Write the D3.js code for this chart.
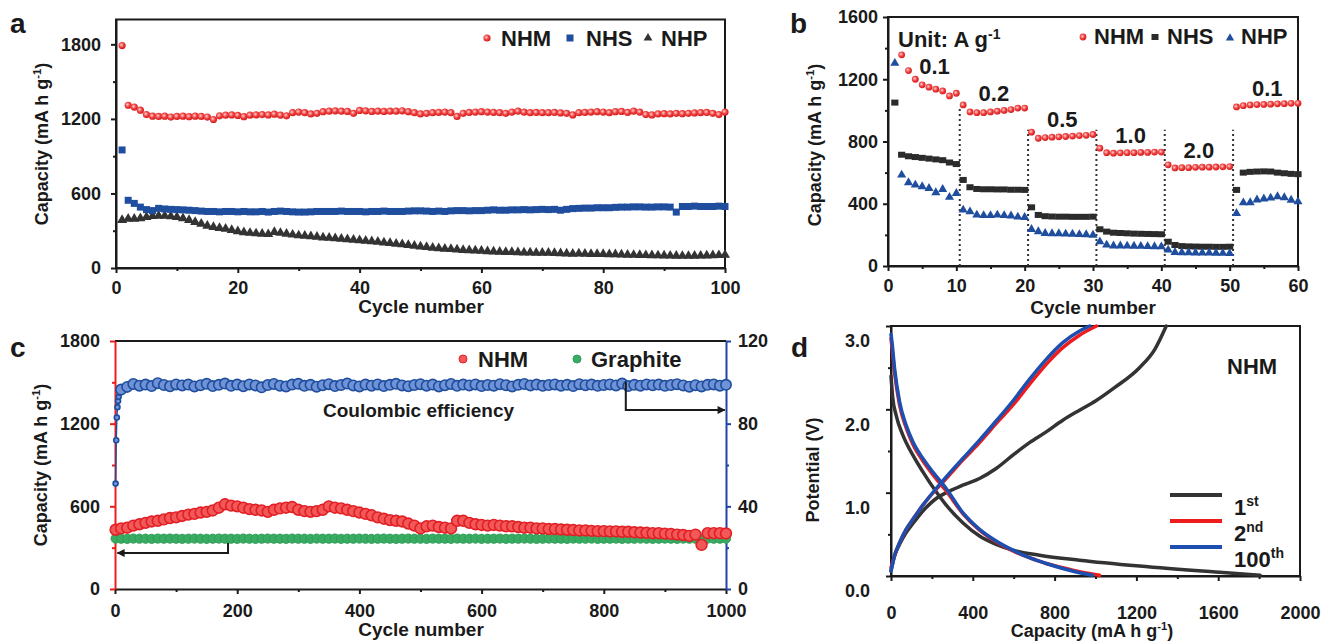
<!DOCTYPE html>
<html>
<head>
<meta charset="utf-8">
<script src="https://cdn.jsdelivr.net/npm/d3@7"></script>
<style>
  html, body { margin: 0; padding: 0; background: #fff; }
  svg { display: block; }
</style>
</head>
<body>
<svg id="fig" width="1323" height="642"></svg>
<script>
// ---------- data ----------
const seriesNames = ['NHM', 'NHS', 'NHP'];

// panel a: cycles 1..100
const cycA = d3.range(1, 101);
const nhmA = [1790,1310,1295,1270,1235,1222,1220,1222,1215,1220,
  1222,1218,1222,1220,1215,1195,1225,1230,1232,1228,
  1218,1230,1232,1235,1232,1238,1230,1225,1250,1255,
  1250,1240,1245,1258,1262,1265,1262,1260,1245,1268,
  1265,1260,1262,1260,1262,1262,1265,1258,1250,1240,
  1245,1250,1252,1255,1250,1220,1245,1252,1255,1258,
  1255,1252,1250,1245,1255,1262,1255,1250,1252,1250,
  1250,1252,1248,1245,1232,1250,1252,1255,1258,1255,
  1250,1258,1260,1252,1262,1255,1235,1232,1240,1242,
  1240,1245,1242,1245,1248,1250,1252,1245,1235,1255];
const nhsA = [950,545,520,490,470,462,480,475,472,470,
  468,465,462,458,455,455,452,455,455,452,
  455,452,452,455,450,455,458,455,452,450,
  450,452,455,455,455,455,458,455,455,455,
  452,455,455,458,455,455,455,458,460,460,
  458,455,458,455,460,462,462,460,462,462,
  465,468,465,465,468,468,470,468,470,472,
  470,472,465,472,478,480,482,482,485,485,
  485,488,490,490,492,492,490,490,492,492,
  490,450,495,495,498,495,495,495,498,495];
const nhpA = [385,395,395,400,410,418,420,420,415,410,
  400,385,370,355,340,330,322,315,305,295,
  288,282,278,275,272,290,282,275,268,262,
  258,255,250,245,242,238,235,230,226,222,
  218,214,210,205,200,195,190,185,178,172,
  168,162,158,155,152,148,145,142,140,138,
  135,132,130,128,128,126,125,124,122,122,
  122,120,118,116,114,116,114,112,112,112,
  110,110,108,106,105,104,103,102,101,100,
  99,98,97,97,98,99,100,102,103,105];

// panel b: rate test, cycles 1..60
const cycB = d3.range(1, 61);
const nhmB = [null,1357,1256,1200,1164,1149,1136,1125,1093,1110,
  1035,990,985,985,990,995,1000,1005,1015,1015,
  860,821,825,828,830,832,835,838,840,845,
  757,728,725,727,728,728,730,730,732,732,
  650,630,632,632,634,635,635,636,637,639,
  1022,1030,1035,1037,1038,1040,1042,1043,1045,1045];
const nhsB = [1050,715,705,700,695,690,685,680,665,655,
  553,506,495,493,493,492,492,490,490,489,
  377,328,320,318,317,317,316,316,316,317,
  236,221,214,212,210,208,207,206,205,204,
  156,135,128,126,125,124,124,123,123,124,
  489,600,605,607,608,607,600,596,592,590];
const nhpB = [1303,585,536,521,510,499,472,493,442,467,
  360,349,328,325,325,328,325,322,315,313,
  236,221,210,208,208,206,205,203,202,199,
  156,135,130,130,129,128,127,126,125,124,
  103,88,86,86,85,85,84,83,82,81,
  339,407,408,425,432,437,446,440,424,413];
const rateLabels = ['0.1', '0.2', '0.5', '1.0', '2.0', '0.1'];
const rateSwitch = [10.5, 20.5, 30.5, 40.5, 50.5];
const switchTop = [1015, 875, 875, 875, 875];

// panel c: long cycling, NHM / Graphite capacity and coulombic efficiency
const cycC = [1].concat(d3.range(10, 1001, 10));
const nhmC = [430,440,445,460,470,480,490,495,505,515,520,
  530,540,545,555,560,570,590,615,605,600,
  590,580,575,570,560,575,585,590,595,575,
  565,560,565,575,600,590,585,575,565,555,
  545,535,520,510,500,495,490,475,460,440,
  455,460,450,445,440,495,495,480,470,465,
  460,465,460,455,455,450,445,445,440,440,
  435,435,432,430,428,425,425,422,420,420,
  418,418,415,415,412,410,408,405,405,402,
  400,395,392,385,395,320,405,405,405,403];
const graphiteC = [366,365,364,366,365,365,364,366,365,366,365,
  364,365,366,365,364,365,366,365,365,364,
  366,365,364,365,366,365,365,364,366,365,
  365,364,366,365,365,366,364,365,365,366,
  365,364,365,366,365,364,365,366,365,365,
  364,366,365,365,364,366,365,365,366,364,
  365,365,366,364,365,365,366,365,364,365,
  366,365,365,364,366,365,365,366,364,365,
  365,366,364,365,365,366,365,364,365,366,
  365,364,366,365,365,364,366,365,365,366];
const cycCE = [1,2,3,4,5,6,8].concat(d3.range(10, 1001, 10));
const ceC = [51,72,83,88,91,93,95,
  96.5,97.8,99.2,98.4,98.9,98.2,99.6,98.7,98.1,99.0,
  98.5,98.9,98.0,98.6,99.3,98.2,98.8,99.4,98.3,98.9,
  98.1,99.0,98.5,97.6,98.7,99.2,98.4,98.0,98.9,99.3,
  98.3,98.8,97.9,98.6,99.1,98.2,98.7,99.4,98.5,98.0,
  98.9,98.4,99.0,98.2,98.8,99.3,98.5,98.1,98.7,99.1,
  98.4,98.9,98.0,98.6,99.2,98.3,98.9,98.5,99.0,98.2,
  98.7,98.4,99.1,98.6,98.0,98.8,99.2,98.5,98.9,98.3,
  98.7,99.0,98.4,98.8,98.2,99.1,98.6,98.9,98.3,98.7,
  99.0,98.5,99.4,98.2,98.8,98.4,99.0,98.6,98.9,98.3,
  98.7,99.1,98.5,97.9,98.6,98.0,98.8,99.0,98.4,98.8];
const legendC = ['NHM', 'Graphite'];

// panel d: voltage profiles [capacity, potential]
const cycleNames = ['1', '2', '100'];
const cycleSup = ['st', 'nd', 'th'];
const dis1 = [[0,2.4],[8,2.15],[25,1.93],[58,1.69],[107,1.45],[156,1.25],[221,1.01],[270,0.85],
  [351,0.64],[433,0.48],[514,0.38],[596,0.31],[726,0.25],[922,0.19],[1215,0.12],[1606,0.045],[1805,0.01]];
const chg1 = [[0,0.06],[17,0.24],[42,0.38],[74,0.52],[107,0.63],[156,0.78],[221,0.93],[270,1.0],
  [351,1.09],[433,1.17],[514,1.29],[596,1.45],[677,1.6],[759,1.73],[840,1.87],[922,1.99],
  [1000,2.1],[1093,2.26],[1215,2.5],[1290,2.72],[1346,3.0]];
const dis2 = [[0,2.85],[6,2.72],[17,2.45],[42,2.05],[74,1.78],[107,1.58],[156,1.38],[204,1.22],
  [270,1.02],[351,0.75],[433,0.55],[514,0.41],[596,0.3],[677,0.22],[759,0.15],[840,0.1],[922,0.05],[1020,0.01]];
const chg2 = [[0,0.1],[17,0.24],[42,0.4],[74,0.56],[107,0.68],[156,0.85],[221,1.04],[270,1.17],
  [351,1.39],[433,1.6],[514,1.83],[596,2.05],[677,2.3],[759,2.54],[840,2.74],[922,2.89],[1005,3.0]];
const dis100 = [[0,2.9],[6,2.78],[17,2.5],[42,2.09],[74,1.81],[107,1.61],[156,1.41],[204,1.25],
  [270,1.05],[351,0.76],[433,0.56],[514,0.42],[596,0.31],[677,0.22],[759,0.15],[840,0.09],[922,0.04],[985,0.01]];
const chg100 = [[0,0.06],[17,0.24],[42,0.4],[74,0.56],[107,0.68],[156,0.85],[221,1.05],[270,1.19],
  [351,1.41],[433,1.63],[514,1.86],[596,2.1],[677,2.36],[759,2.6],[840,2.8],[922,2.94],[972,3.0]];

// ---------- drawing ----------
const FONT = "'Liberation Sans', Arial, sans-serif";
const INK = '#1a1a1a';
const RED = '#e3262b', BLUE = '#1f4e9e', GRAY = '#333333', GREEN = '#2f9e58';

const svg = d3.select('#fig');
const defs = svg.append('defs');
const ball = defs.append('radialGradient').attr('id', 'redBall')
  .attr('cx', '40%').attr('cy', '40%').attr('r', '60%');
ball.append('stop').attr('offset', '0%').attr('stop-color', '#ffd0d0');
ball.append('stop').attr('offset', '55%').attr('stop-color', '#ef4040');
ball.append('stop').attr('offset', '100%').attr('stop-color', '#d41c1c');
defs.append('marker').attr('id', 'arrow').attr('viewBox', '0 0 10 10')
  .attr('refX', 9).attr('refY', 5).attr('markerWidth', 9).attr('markerHeight', 8)
  .attr('markerUnits', 'userSpaceOnUse').attr('orient', 'auto')
  .append('path').attr('d', 'M0,0L10,5L0,10Z').attr('fill', INK);

function txt(x, y, s, size, anchor){
  return svg.append('text').attr('x', x).attr('y', y)
    .attr('font-family', FONT).attr('font-weight', 'bold').attr('font-size', size)
    .attr('text-anchor', anchor || 'start').attr('fill', INK).text(s);
}

// text with "-1" superscript, e.g. "Capacity (mA h g-1)"
function unitTitle(x, y, before, after, size, rotate){
  const t = svg.append('text').attr('font-family', FONT).attr('font-weight', 'bold')
    .attr('font-size', size).attr('fill', INK).attr('text-anchor', 'middle')
    .attr('transform', `translate(${x},${y})` + (rotate ? ' rotate(-90)' : ''));
  t.append('tspan').text(before);
  t.append('tspan').attr('dy', -7).attr('font-size', size * 0.62).text('-1');
  t.append('tspan').attr('dy', 7).text(after);
  return t;
}

function axis(kind, scale, tx, ty, major, minor, o){
  const mk = {bottom: d3.axisBottom, left: d3.axisLeft, right: d3.axisRight}[kind];
  const color = o.color || INK;
  if (minor) {
    const gm = svg.append('g').attr('transform', `translate(${tx},${ty})`)
      .call(mk(scale).tickValues(minor).tickSize(3).tickFormat(''));
    gm.select('.domain').remove();
    gm.selectAll('.tick line').attr('stroke', color).attr('stroke-width', 2);
  }
  const g = svg.append('g').attr('transform', `translate(${tx},${ty})`)
    .call(mk(scale).tickValues(major).tickSize(5).tickSizeOuter(0)
      .tickPadding(o.pad).tickFormat(o.fmt || d3.format('d')));
  g.select('.domain').attr('stroke', color).attr('stroke-width', 2);
  g.selectAll('.tick line').attr('stroke', color).attr('stroke-width', 2);
  g.selectAll('.tick text').attr('fill', INK).attr('font-family', FONT)
    .attr('font-weight', 'bold').attr('font-size', 18);
  if (o.shift) g.selectAll('.tick text').attr('transform', `translate(0,${o.shift})`);
  return g;
}

function frame(x, y){
  svg.append('rect').attr('x', x.range()[0]).attr('y', y.range()[1])
    .attr('width', x.range()[1] - x.range()[0]).attr('height', y.range()[0] - y.range()[1])
    .attr('fill', 'none').attr('stroke', INK).attr('stroke-width', 2);
}

const tri = d3.symbol().type(d3.symbolTriangle);

// ===== panel a =====
const xA = d3.scaleLinear().domain([0, 100]).range([116, 725]);
const yA = d3.scaleLinear().domain([0, 2000]).range([268, 19.5]);
frame(xA, yA);
axis('bottom', xA, 0, 268, d3.range(0, 101, 20), d3.range(10, 100, 20), {pad: 8});
axis('left', yA, 116, 0, [0, 600, 1200, 1800], [300, 900, 1500], {pad: 10});

svg.append('g').selectAll('path').data(cycA).join('path')
  .attr('d', tri.size(44)).attr('fill', GRAY)
  .attr('transform', (c, i) => `translate(${xA(c)},${yA(nhpA[i])})`);
svg.append('g').selectAll('rect').data(cycA).join('rect')
  .attr('x', c => xA(c) - 3.5).attr('y', (c, i) => yA(nhsA[i]) - 3.5)
  .attr('width', 7).attr('height', 7).attr('fill', BLUE);
svg.append('g').selectAll('circle').data(cycA).join('circle')
  .attr('cx', c => xA(c)).attr('cy', (c, i) => yA(nhmA[i])).attr('r', 3.6)
  .attr('fill', 'url(#redBall)');

txt(10, 33, 'a', 28);
txt(421, 313, 'Cycle number', 19, 'middle');
unitTitle(48, 144, 'Capacity (mA h g', ')', 18, true);

// legend a
svg.append('circle').attr('cx', 487).attr('cy', 38).attr('r', 3.6).attr('fill', 'url(#redBall)');
txt(501, 46, seriesNames[0], 22);
svg.append('rect').attr('x', 566.5).attr('y', 34.5).attr('width', 7).attr('height', 7).attr('fill', BLUE);
txt(586, 46, seriesNames[1], 22);
svg.append('path').attr('d', tri.size(34)).attr('fill', GRAY).attr('transform', 'translate(648,38)');
txt(661, 46, seriesNames[2], 22);

// ===== panel b =====
const xB = d3.scaleLinear().domain([0, 60]).range([888, 1298]);
const yB = d3.scaleLinear().domain([0, 1600]).range([266, 17]);
frame(xB, yB);
axis('bottom', xB, 0, 266, d3.range(0, 61, 10), d3.range(5, 60, 10), {pad: 8});
axis('left', yB, 888, 0, d3.range(0, 1601, 400), d3.range(200, 1600, 400), {pad: 5});

svg.append('g').selectAll('line').data(rateSwitch).join('line')
  .attr('x1', d => xB(d)).attr('x2', d => xB(d))
  .attr('y1', yB(0)).attr('y2', (d, i) => yB(switchTop[i]))
  .attr('stroke', GRAY).attr('stroke-width', 2).attr('stroke-dasharray', '2,3');

svg.append('g').selectAll('rect').data(cycB).join('rect')
  .attr('x', c => xB(c) - 3.6).attr('y', (c, i) => yB(nhsB[i]) - 3)
  .attr('width', 7.2).attr('height', 6).attr('fill', '#2b2b2b');
svg.append('g').selectAll('path').data(cycB).join('path')
  .attr('d', tri.size(36)).attr('fill', BLUE)
  .attr('transform', (c, i) => `translate(${xB(c)},${yB(nhpB[i])})`);
svg.append('g').selectAll('circle').data(cycB.filter((c, i) => nhmB[i] != null)).join('circle')
  .attr('cx', c => xB(c)).attr('cy', c => yB(nhmB[c - 1])).attr('r', 3.4)
  .attr('fill', 'url(#redBall)');

// rate labels, placed over each 10-cycle segment
rateLabels.forEach((s, k) => {
  const seg = d3.range(k * 10, k * 10 + 10).filter(i => nhmB[i] != null);
  const cx = d3.mean(seg, i => cycB[i]) + (k === 0 ? 0.8 : 0);
  const cy = yB(d3.mean(seg, i => nhmB[i])) - 9;
  txt(xB(cx), cy, s, 22, 'middle');
});

txt(790, 33, 'b', 28);
txt(1093, 314, 'Cycle number', 19, 'middle');
unitTitle(821, 145, 'Capacity (mA h g', ')', 18, true);

// legend b
const unitT = svg.append('text').attr('x', 898).attr('y', 47).attr('font-family', FONT)
  .attr('font-weight', 'bold').attr('font-size', 22).attr('fill', INK);
unitT.append('tspan').text('Unit: A g');
unitT.append('tspan').attr('dy', -8).attr('font-size', 14).text('-1');
svg.append('circle').attr('cx', 1083).attr('cy', 37).attr('r', 3.4).attr('fill', 'url(#redBall)');
txt(1094, 44, seriesNames[0], 22);
svg.append('rect').attr('x', 1151.5).attr('y', 34).attr('width', 7).attr('height', 6).attr('fill', '#2b2b2b');
txt(1167, 44, seriesNames[1], 22);
svg.append('path').attr('d', tri.size(30)).attr('fill', BLUE).attr('transform', 'translate(1230,38)');
txt(1241, 44, seriesNames[2], 22);

// ===== panel c =====
const xC = d3.scaleLinear().domain([0, 1000]).range([115, 726]);
const yC = d3.scaleLinear().domain([0, 1800]).range([589, 341]);
const yCR = d3.scaleLinear().domain([0, 120]).range([589, 341]);

svg.append('line').attr('x1', 115).attr('x2', 726).attr('y1', 341).attr('y2', 341)
  .attr('stroke', INK).attr('stroke-width', 2);
axis('bottom', xC, 0, 589, d3.range(0, 1001, 200), d3.range(100, 1000, 200), {pad: 10});
axis('left', yC, 115, 0, [0, 600, 1200, 1800], [300, 900, 1500], {pad: 10, color: '#ee1c1c'});
axis('right', yCR, 726, 0, [0, 40, 80, 120], [20, 60, 100], {pad: 7, color: '#2143a8'});

svg.append('g').selectAll('circle').data(cycC).join('circle')
  .attr('cx', c => xC(c)).attr('cy', (c, i) => yC(graphiteC[i])).attr('r', 4.6)
  .attr('fill', '#3aab63').attr('stroke', GREEN).attr('stroke-width', 1);
svg.append('g').selectAll('circle').data(cycC).join('circle')
  .attr('cx', c => xC(c)).attr('cy', (c, i) => yC(nhmC[i])).attr('r', 5.4)
  .attr('fill', '#f25858').attr('stroke', '#e11f25').attr('stroke-width', 1.6);
svg.append('path').datum(cycCE)
  .attr('d', d3.line().x(c => xC(c)).y((c, i) => yCR(ceC[i])))
  .attr('fill', 'none').attr('stroke', BLUE).attr('stroke-width', 1.5);
svg.append('g').selectAll('circle').data(cycCE).join('circle')
  .attr('cx', c => xC(c)).attr('cy', (c, i) => yCR(ceC[i])).attr('r', (c, i) => i < 7 ? 2.5 : 5.2)
  .attr('fill', '#6f93d6').attr('stroke', BLUE).attr('stroke-width', 1.6);

// arrows pointing at the axes
svg.append('path')
  .attr('d', d3.line()([[xC(185), yC(334)], [xC(185), yC(261)], [xC(4), yC(261)]]))
  .attr('fill', 'none').attr('stroke', INK).attr('stroke-width', 2).attr('marker-end', 'url(#arrow)');
svg.append('path')
  .attr('d', d3.line()([[xC(836), yCR(100.3)], [xC(836), yCR(86.6)], [xC(998), yCR(86.6)]]))
  .attr('fill', 'none').attr('stroke', INK).attr('stroke-width', 2).attr('marker-end', 'url(#arrow)');

txt(323, 417, 'Coulombic efficiency', 19);
txt(10, 357, 'c', 28);
txt(421, 636, 'Cycle number', 19, 'middle');
unitTitle(47, 465, 'Capacity (mA h g', ')', 18, true);

// legend c
svg.append('circle').attr('cx', 463).attr('cy', 359).attr('r', 4).attr('fill', '#f25858').attr('stroke', '#e11f25');
txt(478, 367, legendC[0], 22);
svg.append('circle').attr('cx', 577).attr('cy', 359).attr('r', 4).attr('fill', '#3aab63').attr('stroke', GREEN);
txt(591, 367, legendC[1], 22);

// ===== panel d =====
const xD = d3.scaleLinear().domain([0, 2000]).range([891, 1300]);
const yD = d3.scaleLinear().domain([0, 3]).range([576, 326]);
frame(xD, yD);
axis('bottom', xD, 0, 576, d3.range(0, 2001, 400), d3.range(200, 2000, 400), {pad: 25});
axis('left', yD, 891, 0, [0, 1, 2, 3], [0.5, 1.5, 2.5], {pad: 16, fmt: d3.format('.1f'), shift: 15});

const vline = d3.line().x(d => xD(d[0])).y(d => yD(d[1])).curve(d3.curveMonotoneX);
const curves = [
  {data: [dis1, chg1], color: '#333333'},
  {data: [dis2, chg2], color: '#ee1c1c'},
  {data: [dis100, chg100], color: '#1d4fb0'}
];
curves.forEach(cv => {
  svg.append('g').selectAll('path').data(cv.data).join('path')
    .attr('d', vline).attr('fill', 'none').attr('stroke', cv.color)
    .attr('stroke-width', 3.5).attr('stroke-linecap', 'round');
});

txt(791, 357, 'd', 28);
txt(1227, 374, seriesNames[0], 22);
svg.append('text').attr('transform', 'translate(819,470) rotate(-90)')
  .attr('text-anchor', 'middle').attr('font-family', FONT).attr('font-weight', 'bold')
  .attr('font-size', 18).attr('fill', INK).text('Potential (V)');
unitTitle(1092, 637, 'Capacity (mA h g', ')', 18, false);

// legend d
const legY = [495, 521, 547];
curves.forEach((cv, i) => {
  svg.append('line').attr('x1', 1170).attr('x2', 1222).attr('y1', legY[i]).attr('y2', legY[i])
    .attr('stroke', cv.color).attr('stroke-width', 4);
  const t = svg.append('text').attr('x', 1234).attr('y', legY[i] + 20)
    .attr('font-family', FONT).attr('font-weight', 'bold').attr('font-size', 22).attr('fill', INK);
  t.append('tspan').text(cycleNames[i]);
  t.append('tspan').attr('dy', -9).attr('font-size', 14).text(cycleSup[i]);
});
</script>
</body>
</html>
